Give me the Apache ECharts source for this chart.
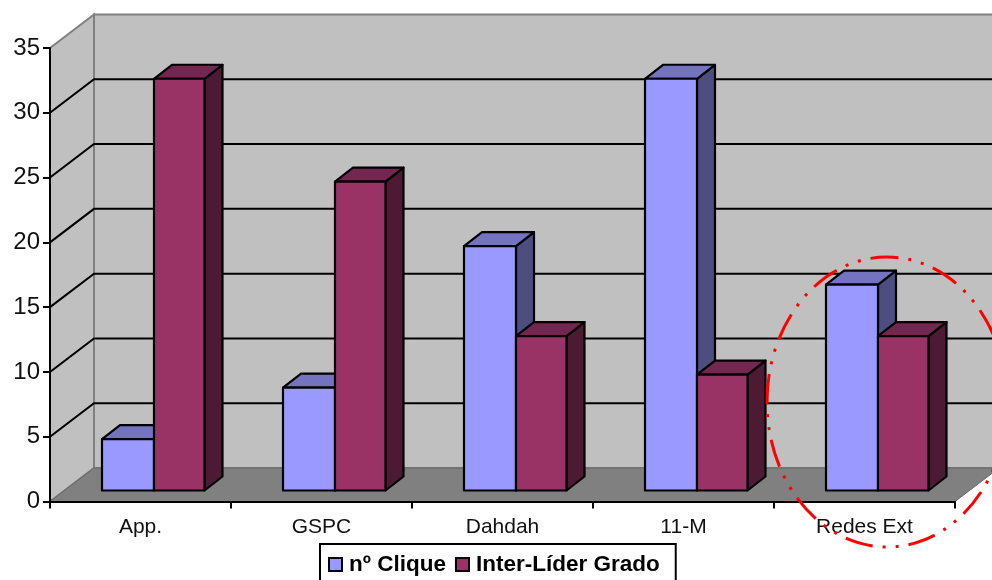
<!DOCTYPE html>
<html lang="es">

<head>
  <meta charset="UTF-8">
  <title>nº Clique / Inter-Líder Grado</title>
  <script src="https://cdn.jsdelivr.net/npm/echarts@6/dist/echarts.min.js"></script>
  <style>
    html, body { margin: 0; padding: 0; background: #fff; overflow: hidden; }
  </style>
</head>

<body>
  <div id="main" style="width: 992px;height:580px;"></div>
  <script>
    var categories = ['App.', 'GSPC', 'Dahdah', '11-M', 'Redes Ext'];
    var cliqueValues = [4, 8, 19, 32, 16];
    var liderValues = [32, 24, 12, 9, 12];
    var gridValues = [5, 10, 15, 20, 25, 30];
    var yMax = 35;
    var yStep = 5;

    var FONT = '"Liberation Sans", Arial, sans-serif';
    // wall depth, and where the bars sit inside it
    var wallDX = 44, wallDY = -33.5;
    var barBaseUp = 11, barDX = 18, barDY = -14;
    var barHeightScale = 0.993;

    function wallsItem(params, api) {
      var cs = params.coordSys;
      var x0 = cs.x, x1 = cs.x + cs.width;
      var y0 = api.coord([0, 0])[1];
      var yT = api.coord([0, yMax])[1];
      var edge = { stroke: '#808080', lineWidth: 2, fill: '#C0C0C0' };
      return {
        type: 'group',
        children: [
          { type: 'polygon', shape: { points: [[x0 + wallDX, yT + wallDY], [x1 + wallDX, yT + wallDY], [x1 + wallDX, y0 + wallDY], [x0 + wallDX, y0 + wallDY]] }, style: edge },
          { type: 'polygon', shape: { points: [[x0, yT], [x0 + wallDX, yT + wallDY], [x0 + wallDX, y0 + wallDY], [x0, y0]] }, style: edge },
          { type: 'polygon', shape: { points: [[x0, y0], [x0 + wallDX, y0 + wallDY], [x1 + wallDX, y0 + wallDY], [x1, y0]] }, style: { fill: '#808080', stroke: '#666', lineWidth: 1 } }
        ]
      };
    }

    function gridItem(params, api) {
      var cs = params.coordSys;
      var y = api.coord([0, api.value(0)])[1];
      return {
        type: 'polyline',
        shape: { points: [[cs.x, y], [cs.x + wallDX, y + wallDY], [cs.x + cs.width + wallDX, y + wallDY]] },
        style: { stroke: '#000', lineWidth: 2, fill: null }
      };
    }

    function barItem(leftOff, rightOff, front, top, side) {
      return function (params, api) {
        var cat = api.value(0);
        var cx = api.coord([cat, 0])[0];
        var y0 = api.coord([cat, 0])[1];
        var h = (y0 - api.coord([cat, api.value(1)])[1]) * barHeightScale;
        var xa = cx + leftOff, xb = cx + rightOff;
        var yb = y0 - barBaseUp, yt = yb - h;
        var line = { stroke: '#000', lineWidth: 2.2, lineJoin: 'round' };
        return {
          type: 'group',
          children: [
            { type: 'polygon', shape: { points: [[xb, yb], [xb + barDX, yb + barDY], [xb + barDX, yt + barDY], [xb, yt]] }, style: Object.assign({ fill: side }, line) },
            { type: 'polygon', shape: { points: [[xa, yt], [xa + barDX, yt + barDY], [xb + barDX, yt + barDY], [xb, yt]] }, style: Object.assign({ fill: top }, line) },
            { type: 'rect', shape: { x: xa, y: yt, width: xb - xa, height: h }, style: Object.assign({ fill: front }, line) }
          ]
        };
      };
    }

    function pairs(values) {
      return values.map(function (v, i) { return [i, v]; });
    }

    var myChart = echarts.init(document.getElementById('main'));

    var option = {
      animation: false,
      backgroundColor: '#fff',
      textStyle: { fontFamily: FONT },
      grid: { left: 50, right: 37, top: 48, height: 453.5 },
      xAxis: {
        type: 'category',
        data: categories,
        z: 5,
        axisLine: { lineStyle: { color: '#000', width: 2 } },
        axisTick: { show: true, alignWithLabel: false, length: 7, lineStyle: { color: '#000', width: 2 } },
        axisLabel: { color: '#111', fontSize: 21, fontFamily: FONT, margin: 15 }
      },
      yAxis: {
        type: 'value',
        min: 0,
        max: yMax,
        interval: yStep,
        z: 5,
        splitLine: { show: false },
        axisLine: { show: true, lineStyle: { color: '#000', width: 2 } },
        axisTick: { show: true, length: 7, lineStyle: { color: '#000', width: 2 } },
        axisLabel: { color: '#111', fontSize: 24, fontFamily: FONT, margin: 10 }
      },
      legend: {
        left: 320,
        top: 544,
        padding: [9, 16, 6, 8],
        backgroundColor: '#fff',
        borderColor: '#000',
        borderWidth: 2,
        borderRadius: 0,
        selectedMode: false,
        itemWidth: 13,
        itemHeight: 13,
        itemGap: 9,
        icon: 'rect',
        itemStyle: { borderColor: '#000', borderWidth: 2 },
        textStyle: { color: '#000', fontSize: 22.5, fontWeight: 'bold', fontFamily: FONT, padding: [0, 0, 0, 2] },
        data: ['nº Clique', 'Inter-Líder Grado']
      },
      graphic: [{
        type: 'ellipse',
        z: 100,
        silent: true,
        shape: { cx: 887, cy: 402, rx: 120, ry: 145 },
        style: { fill: 'transparent', stroke: '#FF0000', lineWidth: 3, lineDash: [28, 10, 3, 10, 3, 10] }
      }],
      series: [
        { name: 'walls', type: 'custom', silent: true, renderItem: wallsItem, data: [[0, yMax]], z: 1 },
        { name: 'gridlines', type: 'custom', silent: true, renderItem: gridItem, data: gridValues.map(function (v) { return [v]; }), encode: { y: 0 }, z: 1 },
        {
          name: 'nº Clique', type: 'custom', silent: true, z: 2,
          itemStyle: { color: '#9999FF' },
          renderItem: barItem(-38.5, 13.5, '#9999FF', '#7373BF', '#4D4D80'),
          data: pairs(cliqueValues)
        },
        {
          name: 'Inter-Líder Grado', type: 'custom', silent: true, z: 2,
          itemStyle: { color: '#993366' },
          renderItem: barItem(13.5, 64, '#993366', '#732650', '#4D1A33'),
          data: pairs(liderValues)
        }
      ]
    };

    myChart.setOption(option);
  </script>
</body>

</html>
